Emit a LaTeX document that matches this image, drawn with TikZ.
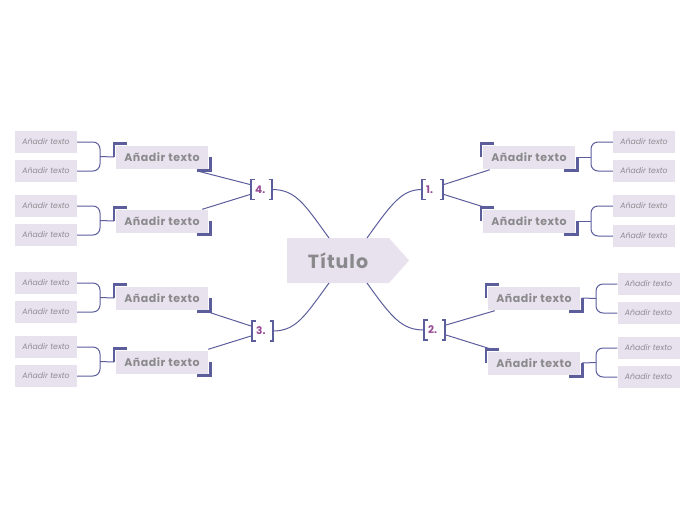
\documentclass[tikz,border=0pt]{standalone}
\usepackage{fontspec}
\setmainfont{Poppins}
\newfontfamily\spacedfont{Poppins}[LetterSpace=5]
\usetikzlibrary{calc}
\definecolor{lineblue}{RGB}{92,94,156}
\definecolor{boxfill}{RGB}{232,226,238}
\definecolor{maintext}{RGB}{138,138,140}
\definecolor{childtext}{RGB}{140,140,145}
\definecolor{numpurple}{RGB}{150,74,148}
\tikzset{
  conn/.style={draw=lineblue, line width=1pt},
  corner/.style={draw=lineblue, line width=2.6pt},
  brk/.style={draw=lineblue, line width=1.3pt},
  mainbox/.style={fill=boxfill, minimum width=92pt, minimum height=23pt, inner sep=0pt,
    text=maintext, font=\spacedfont\fontsize{11}{12}\selectfont\bfseries},
  childbox/.style={fill=boxfill, minimum width=62pt, minimum height=22pt, inner sep=0pt,
    text=childtext, font=\fontsize{7.8}{9}\selectfont\itshape},
  numtext/.style={text=numpurple, font=\fontsize{10.5}{12}\selectfont\bfseries, inner sep=0pt, anchor=west},
  titletext/.style={text=maintext, font=\spacedfont\fontsize{19}{22}\selectfont\bfseries, inner sep=0pt}
}
\newcommand{\cornersof}[1]{%
  \draw[corner] ($(#1.west)+(-2,0)$) |- ($(#1.north west)+(11,-2)$);
  \draw[corner] ($(#1.east)+(2,0)$) |- ($(#1.south east)+(-11,2)$);}
\newcommand{\numnode}[4]{% name, x of [, y, text
  \node[numtext] (#1) at (#2+4,#3) {#4};
  \coordinate (#1l) at (#2,#3);
  \coordinate (#1r) at (#2+21,#3);
  \draw[brk] (#2+3.5,#3-10) -- (#2,#3-10) -- (#2,#3+10) -- (#2+3.5,#3+10);
  \draw[brk] (#2+17.5,#3-10) -- (#2+21,#3-10) -- (#2+21,#3+10) -- (#2+17.5,#3+10);}
\begin{document}
\begin{tikzpicture}[x=1pt,y=-1pt]
\useasboundingbox (0,0) rectangle (696,520);
% title
\path[fill=boxfill] (287,238) -- (389,238) -- (409,260.5) -- (389,283) -- (287,283) -- cycle;
\node[titletext] (T) at (338,261) {Título};
\coordinate (T1) at (367,238);
\coordinate (T4) at (329,238);
\coordinate (T2) at (367,283);
\coordinate (T3) at (329,283);
% number nodes
\numnode{N1}{422}{189.5}{1.}
\numnode{N2}{424}{330}{2.}
\numnode{N3}{252}{331}{3.}
\numnode{N4}{251}{189.5}{4.}
% main nodes
\node[mainbox] (A1) at (529,157) {Añadir texto};
\node[mainbox] (A2) at (529,221) {Añadir texto};
\node[mainbox] (B1) at (534,298) {Añadir texto};
\node[mainbox] (B2) at (534,363) {Añadir texto};
\node[mainbox] (D1) at (162,157) {Añadir texto};
\node[mainbox] (D2) at (162,221) {Añadir texto};
\node[mainbox] (C1) at (162,298) {Añadir texto};
\node[mainbox] (C2) at (162,362) {Añadir texto};
\foreach \n in {A1,A2,B1,B2,C1,C2,D1,D2}{\cornersof{\n}}
% children
\node[childbox] (A1a) at (644,142) {Añadir texto};
\node[childbox] (A1b) at (644,171) {Añadir texto};
\node[childbox] (A2a) at (644,206) {Añadir texto};
\node[childbox] (A2b) at (644,236) {Añadir texto};
\node[childbox] (B1a) at (648.5,284) {Añadir texto};
\node[childbox] (B1b) at (648.5,313) {Añadir texto};
\node[childbox] (B2a) at (648.5,348) {Añadir texto};
\node[childbox] (B2b) at (648.5,377) {Añadir texto};
\node[childbox] (D1a) at (46,142) {Añadir texto};
\node[childbox] (D1b) at (46,171) {Añadir texto};
\node[childbox] (D2a) at (46,206) {Añadir texto};
\node[childbox] (D2b) at (46,235) {Añadir texto};
\node[childbox] (C1a) at (46,283) {Añadir texto};
\node[childbox] (C1b) at (46,312) {Añadir texto};
\node[childbox] (C2a) at (46,347) {Añadir texto};
\node[childbox] (C2b) at (46,376) {Añadir texto};
% braces
\coordinate (bA1) at (591,157);
\coordinate (bA2) at (591,221);
\coordinate (bB1) at (596,298.5);
\coordinate (bB2) at (596,362.5);
\coordinate (bD1) at (100,156.5);
\coordinate (bD2) at (100,220.5);
\coordinate (bC1) at (100,297.5);
\coordinate (bC2) at (100,361.5);
\foreach \n in {A1,A2,B1,B2}{
  \draw[conn,rounded corners=7pt] (\n a.west) -| (b\n) |- (\n b.west);
  \draw[conn] ($(\n.east)+(2,0)$) -- (b\n);
}
\foreach \n in {C1,C2,D1,D2}{
  \draw[conn,rounded corners=7pt] (\n a.east) -| (b\n) |- (\n b.east);
  \draw[conn] ($(\n.west)+(-2,0)$) -- (b\n);
}
% title to numbers
\draw[conn] (T1) .. controls (392,203) and (402,189.5) .. (N1l);
\draw[conn] (T2) .. controls (392,318) and (402,330) .. (N2l);
\draw[conn] (T4) .. controls (305,205) and (296,189.5) .. (N4r);
\draw[conn] (T3) .. controls (305,316) and (296,331) .. (N3r);
% numbers to main nodes
\draw[conn] ($(N1r)+(1,-5)$) -- ($(A1.south west)+(7,1)$);
\draw[conn] ($(N1r)+(1,5)$) -- ($(A2.north west)+(2,-2)$);
\draw[conn] ($(N2r)+(1,-5)$) -- ($(B1.south west)+(7,1)$);
\draw[conn] ($(N2r)+(1,5)$) -- ($(B2.north west)+(4,-2)$);
\draw[conn] ($(N3l)+(-1,-5)$) -- ($(C1.south east)+(-4,1)$);
\draw[conn] ($(N3l)+(-1,5)$) -- ($(C2.north east)+(0,-1)$);
\draw[conn] ($(N4l)+(-1,-5)$) -- ($(D1.south east)+(-8,3)$);
\draw[conn] ($(N4l)+(-1,5)$) -- ($(D2.north east)+(-6,0)$);
\end{tikzpicture}
\end{document}
